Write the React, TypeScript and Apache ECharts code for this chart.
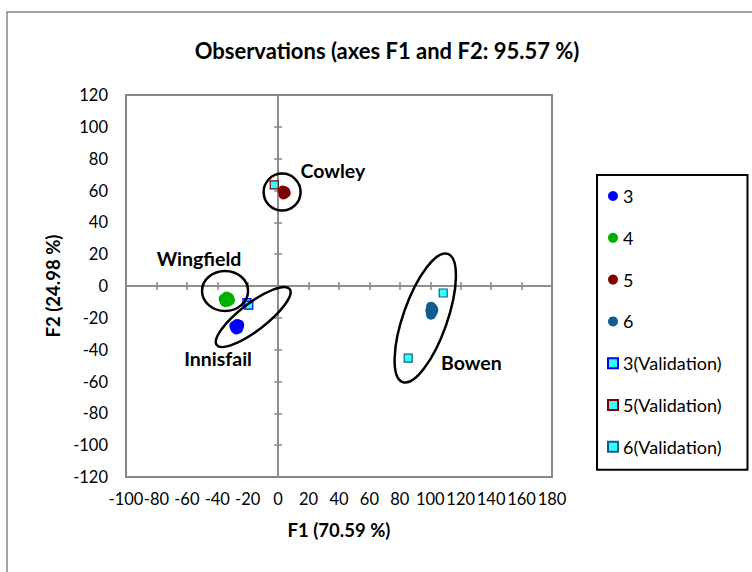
import { useEffect, useRef } from "react";
import * as echarts from "echarts";

// Axis ranges (F1 horizontal, F2 vertical)
const F1_MIN = -100;
const F1_MAX = 180;
const F1_STEP = 20;
const F2_MIN = -120;
const F2_MAX = 120;
const F2_STEP = 20;

// Observation scores per group [F1, F2]
const group3: number[][] = [
  [-28.8, -25], [-27, -23.8], [-25.8, -25.5], [-27.5, -27.3], [-26.3, -26.8], [-25.6, -24.3], [-28.3, -26.4],
];
const group4: number[][] = [
  [-35.8, -8], [-34, -6.6], [-32.3, -7.3], [-33, -9.8], [-34.7, -10.2], [-31.6, -9], [-35.3, -9.5],
];
const group5: number[][] = [
  [3, 60], [4.5, 59.5], [4, 58], [3.5, 57.5], [5, 58.5],
];
const group6: number[][] = [
  [100.5, -13], [101.5, -14], [100, -15.5], [101.5, -16.5], [100.5, -18], [102, -15],
];
const validation3: number[][] = [[-20.5, -10.5], [-19.3, -12]];
const validation5: number[][] = [[-2.6, 63.5]];
const validation6: number[][] = [[108.5, -4.4], [85.5, -45.3]];

// Site groupings: label anchor and enclosing ellipse centre [F1, F2]
const siteNames = ["Cowley", "Wingfield", "Innisfail", "Bowen"];
const siteLabelAt: number[][] = [[36, 72.5], [-52, 17.5], [-39.5, -45.5], [127, -48]];
const siteCentres: number[][] = [[2.6, 59], [-34.9, -3.1], [-16.4, -19.5], [96.7, -20.1]];

// Ellipse outline geometry in pixels (semi-axes and tilt in degrees)
const ellipseGeom = [
  { rx: 18.5, ry: 18.5, angle: 0 },
  { rx: 23, ry: 20, angle: 0 },
  { rx: 46, ry: 13.5, angle: 37.5 },
  { rx: 68, ry: 22, angle: 70.6 },
];

const FONT = "Lato, 'Noto Sans', sans-serif";
const GREY = "#878787";
const CYAN = "#33FFFF";

export default function App() {
  const ref = useRef<HTMLDivElement>(null);

  useEffect(() => {
    if (!ref.current) return;
    const chart = echarts.init(ref.current, undefined, { renderer: "svg" });

    const zeroAxisX = (inside: boolean) => ({
      type: "value",
      min: F1_MIN,
      max: F1_MAX,
      interval: F1_STEP,
      position: "bottom",
      axisLine: { show: true, onZero: true, lineStyle: { color: GREY, width: 1.5 } },
      axisTick: { show: true, inside, length: 4, lineStyle: { color: GREY, width: 1.5 } },
      axisLabel: { show: false },
      splitLine: { show: false },
    });
    const zeroAxisY = (inside: boolean) => ({
      type: "value",
      min: F2_MIN,
      max: F2_MAX,
      interval: F2_STEP,
      position: "left",
      axisLine: { show: true, onZero: true, lineStyle: { color: GREY, width: 1.5 } },
      axisTick: { show: true, inside, length: 4, lineStyle: { color: GREY, width: 1.5 } },
      axisLabel: { show: false },
      splitLine: { show: false },
    });

    const scatter = (name: string, data: number[][], color: string, symbol: string, border?: string) => ({
      name,
      type: "scatter",
      data,
      symbol,
      symbolSize: symbol === "circle" ? 10 : 8,
      itemStyle: border
        ? { color, borderColor: border, borderWidth: 1.2, opacity: 1 }
        : { color, opacity: 1 },
      z: symbol === "circle" ? 3 : 4,
    });

    chart.setOption({
      animation: false,
      backgroundColor: "#fff",
      title: {
        text: "Observations (axes F1 and F2: 95.57 %)",
        left: 382,
        textAlign: "center",
        top: 34,
        textStyle: { fontFamily: FONT, fontSize: 22, fontWeight: "bold", color: "#000" },
      },
      graphic: [
        {
          type: "rect",
          shape: { x: 7, y: 12, width: 760, height: 580 },
          style: { fill: "none", stroke: GREY, lineWidth: 1.5 },
          silent: true,
        },
      ],
      grid: {
        left: 126,
        top: 95,
        right: 200,
        bottom: 95,
        show: true,
        borderColor: GREY,
        borderWidth: 2,
        backgroundColor: "transparent",
      },
      legend: {
        orient: "vertical",
        left: 597,
        top: 175,
        padding: [11, 26, 13, 10],
        itemGap: 21.8,
        itemWidth: 10,
        itemHeight: 10,
        borderColor: "#000",
        borderWidth: 2,
        textStyle: { fontFamily: FONT, fontSize: 18, color: "#000", lineHeight: 20 },
        data: ["3", "4", "5", "6", "3(Validation)", "5(Validation)", "6(Validation)"],
      },
      xAxis: [
        {
          type: "value",
          min: F1_MIN,
          max: F1_MAX,
          interval: F1_STEP,
          position: "bottom",
          name: "F1 (70.59 %)",
          nameLocation: "middle",
          nameGap: 43,
          nameTextStyle: { fontFamily: FONT, fontSize: 18.5, fontWeight: "bold", color: "#000" },
          axisLine: { show: false, onZero: false },
          axisTick: { show: false },
          axisLabel: { fontFamily: FONT, fontSize: 16.5, color: "#000", margin: 13 },
          splitLine: { show: false },
        },
        zeroAxisX(true),
        zeroAxisX(false),
      ],
      yAxis: [
        {
          type: "value",
          min: F2_MIN,
          max: F2_MAX,
          interval: F2_STEP,
          position: "left",
          name: "F2 (24.98 %)",
          nameLocation: "middle",
          nameGap: 55,
          nameTextStyle: { fontFamily: FONT, fontSize: 18.5, fontWeight: "bold", color: "#000" },
          axisLine: { show: false, onZero: false },
          axisTick: { show: false },
          axisLabel: { fontFamily: FONT, fontSize: 16.5, color: "#000", margin: 18 },
          splitLine: { show: false },
        },
        zeroAxisY(true),
        zeroAxisY(false),
      ],
      series: [
        scatter("3", group3, "#0000FF", "circle"),
        scatter("4", group4, "#00B000", "circle"),
        scatter("5", group5, "#7F0000", "circle"),
        scatter("6", group6, "#0F5E8F", "circle"),
        scatter("3(Validation)", validation3, CYAN, "rect", "#0000FF"),
        scatter("5(Validation)", validation5, CYAN, "rect", "#7F0000"),
        scatter("6(Validation)", validation6, CYAN, "rect", "#0F5E8F"),
        {
          name: "groups",
          type: "custom",
          silent: true,
          z: 5,
          data: siteCentres,
          renderItem: (params: any, api: any) => {
            const c = api.coord([api.value(0), api.value(1)]);
            const g = ellipseGeom[params.dataIndex];
            return {
              type: "ellipse",
              x: c[0],
              y: c[1],
              rotation: (g.angle * Math.PI) / 180,
              shape: { cx: 0, cy: 0, rx: g.rx, ry: g.ry },
              style: { fill: "none", stroke: "#000", lineWidth: 2.5 },
            };
          },
        },
        {
          name: "sites",
          type: "custom",
          silent: true,
          z: 6,
          data: siteLabelAt,
          renderItem: (params: any, api: any) => {
            const c = api.coord([api.value(0), api.value(1)]);
            return {
              type: "text",
              x: c[0],
              y: c[1],
              style: {
                text: siteNames[params.dataIndex],
                fontFamily: FONT,
                fontSize: 19.5,
                fontWeight: "bold",
                fill: "#000",
                align: "center",
                verticalAlign: "middle",
              },
            };
          },
        },
      ],
    });

    return () => chart.dispose();
  }, []);

  return (
    <div
      ref={ref}
      style={{ position: "absolute", left: 0, top: 0, width: 752, height: 572, background: "#fff" }}
    />
  );
}
